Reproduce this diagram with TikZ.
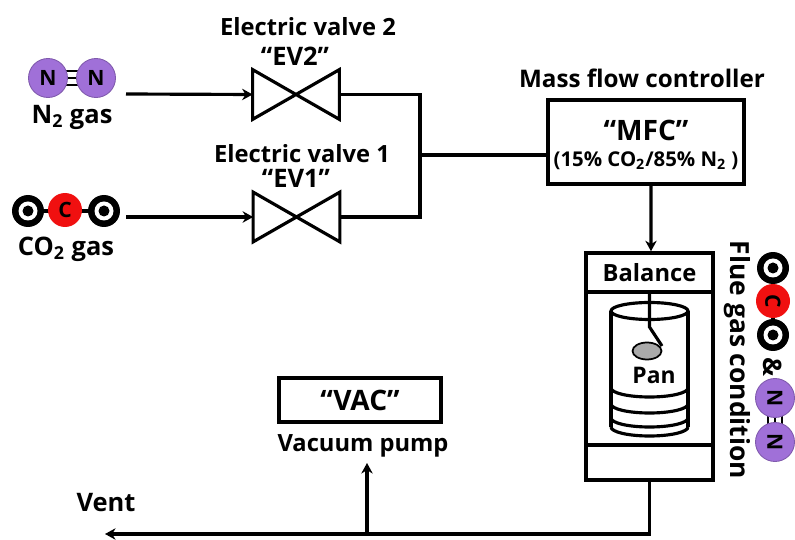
\documentclass[tikz,border=0pt]{standalone}
\usepackage{fontspec}
\setmainfont{Open Sans}
\usetikzlibrary{arrows.meta,positioning,calc,shapes.geometric}
\definecolor{nitrogen}{RGB}{160,112,216}
\definecolor{carbon}{RGB}{240,16,16}
\definecolor{pangray}{RGB}{170,170,170}

\begin{document}
\begin{tikzpicture}[
    x=0.02cm, y=-0.02cm,
    box/.style={rectangle, draw=black, line width=2pt, fill=white, minimum width=#1, inner sep=0pt, align=center},
    valve/.style={rectangle, minimum width=1.72cm, minimum height=0.98cm, inner sep=0pt},
    pipe/.style={line width=1.8pt, black},
    flow/.style={pipe, -{Stealth[length=6pt,width=6.5pt]}},
    lbl/.style={font=\fontsize{13.5}{15}\selectfont\bfseries, inner sep=0pt},
    tag/.style={font=\fontsize{14.5}{16}\selectfont\bfseries, inner sep=0pt},
    natom/.style={circle, fill=nitrogen, draw=nitrogen!80!black, line width=0.5pt, minimum size=0.78cm, inner sep=0pt, font=\fontsize{12}{14}\selectfont\bfseries},
    catom/.style={circle, fill=carbon, minimum size=0.68cm, inner sep=0pt, font=\fontsize{12}{14}\selectfont\bfseries},
    oatom/.style={circle, fill=black, minimum size=0.64cm, inner sep=0pt},
    bond/.style={line width=1.4pt, black}
]
\useasboundingbox (0,0) rectangle (795,540);

% Gas molecules
\draw[bond] (60,71) -- (84,71) (60,78) -- (84,78) (60,85) -- (84,85);
\node[natom] (n2a) at (48,78) {N};
\node[natom] (n2b) at (96,78) {N};
\node[tag] (n2lbl) at (72,117) {N\textsubscript{2} gas};

\draw[bond, line width=2pt] (28,211) -- (104,211);
\node[oatom] (co2a) at (28,211) {};
\node[catom] (co2c) at (65,210) {C};
\node[oatom] (co2b) at (104,211) {};
\node[tag] (co2lbl) at (66,249) {CO\textsubscript{2} gas};

% Valves
\node[valve] (ev2) at (296,94.5) {};
\node[valve] (ev1) at (296.5,217) {};
\foreach \v in {ev1,ev2}
    \draw[pipe, line join=miter] (\v.north west) -- (\v.south east) -- (\v.north east) -- (\v.south west) -- cycle;
\node[lbl] (ev2lbl) at (308,27) {Electric valve 2};
\node[tag] (ev2tag) at (295,56) {“EV2”};
\node[lbl] (ev1lbl) at (302,154) {Electric valve 1};
\node[tag] (ev1tag) at (296,178) {“EV1”};

% Boxes
\node[box=3.92cm, minimum height=1.68cm] (mfc) at (646,142) {};
\node[tag, font=\fontsize{16}{18}\selectfont\bfseries] (mfctag) at (646,130) {“MFC”};
\node[lbl, font=\fontsize{11.6}{13}\selectfont\bfseries] (mfcmix) at (646,161) {(15\% CO\textsubscript{2}/85\% N\textsubscript{2} )};
\node[lbl, font=\fontsize{13.8}{16}\selectfont\bfseries] (mfclbl) at (642,78) {Mass flow controller};

\node[box=2.54cm, minimum height=0.78cm, lbl] (balance) at (649.5,272.5) {Balance};
\node[box=2.54cm, minimum height=3.06cm, below=-2pt of balance] (chamber) {};
\node[box=2.54cm, minimum height=0.7cm, below=-2pt of chamber] (base) {};

\node[box=3.24cm, minimum height=0.88cm, tag, font=\fontsize{16}{18}\selectfont\bfseries] (vac) at (360,400) {“VAC”};
\node[lbl] (vaclbl) at (363,446) {Vacuum pump};
\node[tag] (vent) at (106,503) {Vent};

% Pan in the chamber
\draw[pipe] (611,311) -- (611,427) (688,311) -- (688,427);
\draw[pipe] (649.5,311) ellipse (38.5 and 8.5);
\foreach \ypos in {388,404,418,427}
    \draw[pipe] (611,\ypos) arc[start angle=180, end angle=360, x radius=38.5, y radius=-9];
\draw[pipe] (chamber.north) -- (649.5,327) -- (662,346);
\node[ellipse, draw=black, line width=1pt, fill=pangray, minimum width=0.58cm, minimum height=0.34cm, inner sep=0pt] (pan) at (647,351) {};
\node[lbl, font=\fontsize{13}{15}\selectfont\bfseries] (panlbl) at (654,375) {Pan};

% Flue gas label with molecules
\node[lbl, rotate=-90, font=\fontsize{15}{17}\selectfont\bfseries] (flue) at (737,360) {Flue gas condition};
\draw[bond, line width=2pt] (773,268) -- (773,335);
\node[oatom] (fluea) at (773,268) {};
\node[catom, rotate=-90] (fluec) at (773,301) {C};
\node[oatom] (flueb) at (773,335) {};
\node[tag, rotate=-90] (amp) at (773,367) {\&};
\draw[bond] (768,412) -- (768,428) (775,412) -- (775,428) (782,412) -- (782,428);
\node[natom, rotate=-90] (fluen) at (775,398) {N};
\node[natom, rotate=-90] (fluem) at (775,442) {N};

% Rings of the oxygen atoms
\foreach \o in {co2a,co2b,fluea,flueb} {
    \fill[white] (\o) circle (9.5);
    \fill[black] (\o) circle (5.5);
}

% Flow lines
\coordinate (n2out) at (126,94);
\coordinate (co2out) at (126,217);
\coordinate (joint) at (420,155);
\coordinate (ventend) at (105,534);
\coordinate (tee) at (367,534);
\coordinate (vacend) at (367,463);

\draw[flow] (n2out) -- (ev2.west);
\draw[flow] (co2out) -- (ev1.west);
\draw[pipe] (ev2.east) -| (joint) |- (ev1.east);
\draw[pipe] (joint) -- (joint -| mfc.west);
\draw[flow] ([xshift=0.1cm]mfc.south) -- ([xshift=0.03cm]balance.north);
\draw[flow] (base.south) |- (ventend);
\draw[flow] (tee) -- (vacend);

\end{tikzpicture}
\end{document}
